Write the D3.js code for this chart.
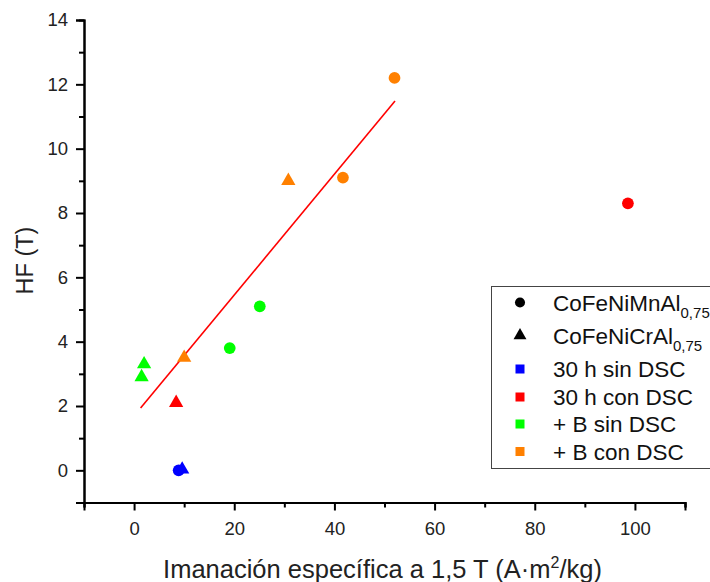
<!DOCTYPE html>
<html>
<head>
<meta charset="utf-8">
<script src="https://cdn.jsdelivr.net/npm/d3@7"></script>
<style>
  body { margin: 0; background: #fff; }
  text { font-family: "Liberation Sans", Arial, sans-serif; }
</style>
</head>
<body>
<svg id="chart" width="710" height="582"></svg>
<script>
// ---- data ----
const seriesNames = ["30 h sin DSC", "30 h con DSC", "+ B sin DSC", "+ B con DSC"];
const seriesColors = ["#0000ff", "#ff0000", "#00ff00", "#ff8000"];
const alloyNames = ["CoFeNiMnAl", "CoFeNiCrAl"];
const alloySub = "0,75";

// points: [alloy index (0 circle, 1 triangle), series index, x, y]
const pointAlloy  = [0, 1, 1, 0, 1, 1, 0, 0, 0, 0, 1, 1];
const pointSeries = [0, 0, 1, 1, 2, 2, 2, 2, 3, 3, 3, 3];
const pointX      = [8.9, 9.6, 8.4, 98.6, 2.0, 1.5, 19.1, 25.1, 52.0, 41.7, 30.8, 10.0];
const pointY      = [0.0, 0.03, 2.1, 8.3, 3.3, 2.9, 3.8, 5.1, 12.2, 9.1, 9.0, 3.5];

const fitX = [1.3, 52.1];
const fitY = [1.94, 11.48];

const xMajor = [0, 20, 40, 60, 80, 100];
const xMinor = [-10, 10, 30, 50, 70, 90, 110];
const yMajor = [0, 2, 4, 6, 8, 10, 12, 14];
const yMinor = [-1, 1, 3, 5, 7, 9, 11, 13];

const xTitle = "Imanación específica a 1,5 T (A·m";
const xTitleSup = "2";
const xTitleEnd = "/kg)";
const yTitle = "HF (T)";

// ---- chart ----
const svg = d3.select("#chart");
const x = d3.scaleLinear().domain([-10, 110]).range([84, 685]);
const y = d3.scaleLinear().domain([-1, 14]).range([502.5, 20]);

function styleAxis(g) {
  g.select(".domain").attr("stroke", "#000").attr("stroke-width", 2);
  g.selectAll(".tick line").attr("stroke", "#000").attr("stroke-width", 2);
  g.selectAll("text").attr("font-size", 18.5).attr("fill", "#222")
    .style("font-family", "'Liberation Sans', Arial, sans-serif");
}

// minor ticks
svg.append("g").attr("transform", `translate(0,${y(-1)})`)
  .call(d3.axisBottom(x).tickValues(xMinor).tickSize(5).tickFormat(""))
  .call(styleAxis);
svg.append("g").attr("transform", `translate(${x(-10)},0)`)
  .call(d3.axisLeft(y).tickValues(yMinor).tickSize(5).tickFormat(""))
  .call(styleAxis);
// major ticks
svg.append("g").attr("transform", `translate(0,${y(-1)})`)
  .call(d3.axisBottom(x).tickValues(xMajor).tickSize(8).tickPadding(11).tickFormat(d3.format("d")))
  .call(styleAxis);
svg.append("g").attr("transform", `translate(${x(-10)},0)`)
  .call(d3.axisLeft(y).tickValues(yMajor).tickSize(8).tickPadding(8).tickFormat(d3.format("d")))
  .call(styleAxis);

// fit line
const fitData = fitX.map((v, i) => [v, fitY[i]]);
svg.append("path")
  .datum(fitData)
  .attr("d", d3.line().x(d => x(d[0])).y(d => y(d[1])))
  .attr("stroke", "#ff0000").attr("stroke-width", 1.6).attr("fill", "none");

// points
const symbols = [d3.symbolCircle, d3.symbolTriangle];
const symbolSizes = [108, 88];
const pts = pointX.map((v, i) => ({x: v, y: pointY[i], a: pointAlloy[i], s: pointSeries[i]}));
svg.append("g").selectAll("path").data(pts).join("path")
  .attr("transform", d => `translate(${x(d.x)},${y(d.y)})`)
  .attr("d", d => d3.symbol().type(symbols[d.a]).size(symbolSizes[d.a])())
  .attr("fill", d => seriesColors[d.s]);

// axis titles
const xt = svg.append("text").attr("x", 382.5).attr("y", 578)
  .attr("text-anchor", "middle").attr("font-size", 25.5).attr("fill", "#222");
xt.append("tspan").text(xTitle);
xt.append("tspan").attr("dy", -10).attr("font-size", 16).text(xTitleSup);
xt.append("tspan").attr("dy", 10).text(xTitleEnd);

svg.append("text").attr("transform", "translate(33,260.5) rotate(-90)")
  .attr("text-anchor", "middle").attr("font-size", 23.5).attr("fill", "#222")
  .text(yTitle);

// legend
const lg = svg.append("g");
lg.append("rect").attr("x", 491.5).attr("y", 286.5).attr("width", 240).attr("height", 182)
  .attr("fill", "#fff").attr("stroke", "#444").attr("stroke-width", 1);
const rowsY = [302.5, 335.5, 369, 397, 424, 451.5];
alloyNames.forEach((n, i) => {
  lg.append("path").attr("transform", `translate(520,${rowsY[i]})`)
    .attr("d", d3.symbol().type(symbols[i]).size(i === 0 ? 80 : 72)())
    .attr("fill", "#000");
  const t = lg.append("text").attr("x", 553).attr("y", rowsY[i] + 8)
    .attr("font-size", 22.5).attr("fill", "#111");
  t.append("tspan").text(n);
  t.append("tspan").attr("dy", 7).attr("font-size", 15).text(alloySub);
});
seriesNames.forEach((n, i) => {
  const cy = rowsY[i + 2];
  lg.append("rect").attr("x", 515.5).attr("y", cy - 4.5).attr("width", 9).attr("height", 9)
    .attr("fill", seriesColors[i]);
  lg.append("text").attr("x", 553).attr("y", cy + 8)
    .attr("font-size", 22.5).attr("fill", "#111").text(n);
});
</script>
</body>
</html>
